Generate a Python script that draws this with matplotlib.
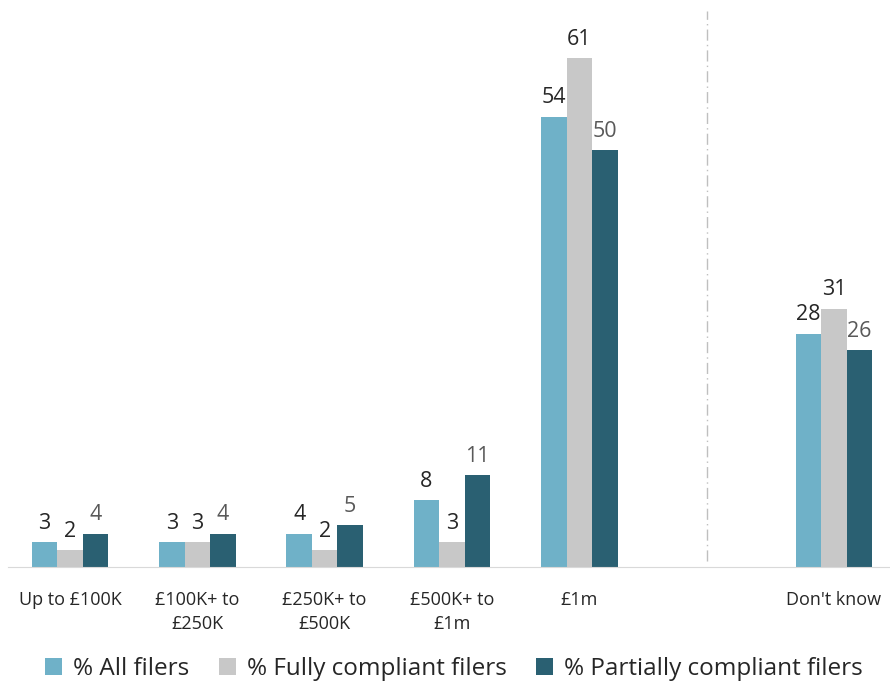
import matplotlib; matplotlib.use("Agg")
import matplotlib.pyplot as plt
import numpy as np

plt.rcParams['font.family'] = ['Open Sans', 'DejaVu Sans']

# ── Data ───────────────────────────────────────────────────────────────────
categories = ["Up to £100K", "£100K+ to\n£250K", "£250K+ to\n£500K",
              "£500K+ to\n£1m", "£1m", "Don't know"]
positions = [0, 1, 2, 3, 4, 6]          # gap slot at 5 for the divider
all_filers = [3, 3, 4, 8, 54, 28]
fully_compliant = [2, 3, 2, 3, 61, 31]
partially_compliant = [4, 4, 5, 11, 50, 26]

series = [
    ("% All filers", all_filers, "#6FB1C8", "#262626"),
    ("% Fully compliant filers", fully_compliant, "#C8C8C8", "#262626"),
    ("% Partially compliant filers", partially_compliant, "#2A6072", "#595959"),
]

# ── Plot ───────────────────────────────────────────────────────────────────
fig = plt.figure(figsize=(8.9, 6.82), dpi=100)
ax = fig.add_axes([0.0, 0.1686, 1.0, 0.8314])

width = 0.2
x = np.array(positions, dtype=float)
for i, (name, vals, color, lcolor) in enumerate(series):
    bars = ax.bar(x + (i - 1) * width, vals, width, color=color, label=name,
                  edgecolor="none")
    ax.bar_label(bars, labels=[str(v) for v in vals], padding=6,
                 fontsize=15.5, color=lcolor)

ax.axvline(5, ymin=0.01, ymax=0.98, color="#BFBFBF", linewidth=1,
           linestyle=(0, (8, 3, 1, 3)))

ax.set_xlim(-0.55, 6.44)
ax.set_ylim(0, 68)
ax.set_xticks(positions)
ax.set_xticklabels(categories, fontsize=13, color="#262626", linespacing=1.45)
ax.tick_params(axis="x", length=0, pad=17)
ax.set_yticks([])
for side in ("top", "right", "left"):
    ax.spines[side].set_visible(False)
ax.spines["bottom"].set_color("#D9D9D9")
ax.spines["bottom"].set_bounds(-0.49, 6.44)

fig.legend(loc="lower center", ncol=3, frameon=False, fontsize=17.5,
           handlelength=0.7, handleheight=0.7, handletextpad=0.45,
           columnspacing=1.2, bbox_to_anchor=(0.51, -0.03), labelcolor="#262626")

fig.savefig("out.png", dpi=100)
